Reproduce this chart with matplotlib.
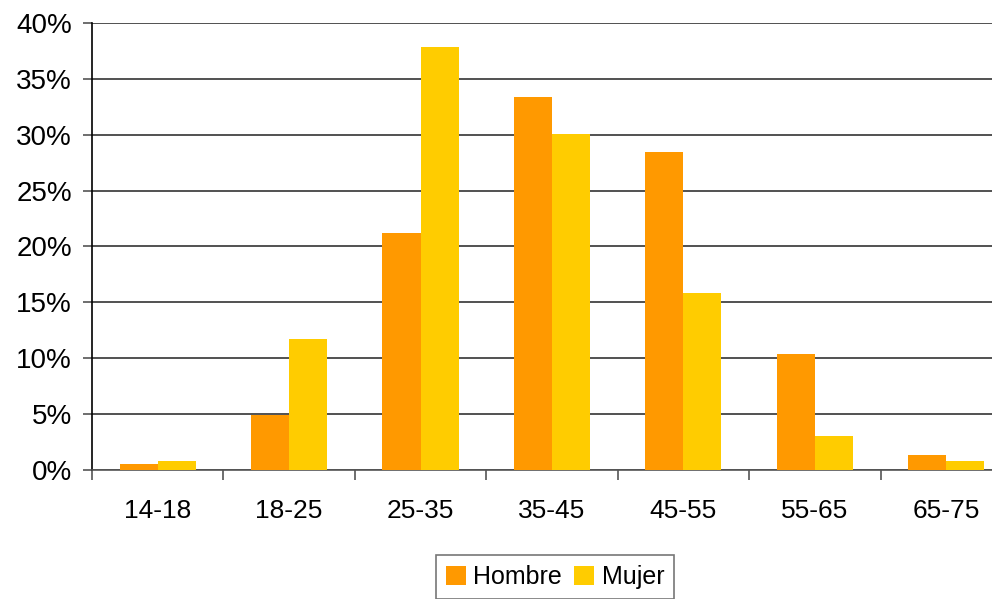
import numpy as np
import matplotlib.pyplot as plt
from matplotlib.ticker import FuncFormatter

# Datos
edades = ['14-18', '18-25', '25-35', '35-45', '45-55', '55-65', '65-75']
hombre = [0.55, 4.9, 21.2, 33.4, 28.5, 10.4, 1.35]
mujer = [0.8, 11.7, 37.85, 30.1, 15.8, 3.0, 0.8]

plt.rcParams['font.family'] = ['Liberation Sans', 'DejaVu Sans']

fig = plt.figure(figsize=(9.92, 5.99), dpi=100)
# el eje se sale un poco por la derecha, como en el original
ax = fig.add_axes([0.0927, 0.2154, 0.9274, 0.7462])

x = np.arange(len(edades))
ancho = 0.29
ax.bar(x - ancho/2, hombre, ancho, color='#FF9900', label='Hombre', zorder=3)
ax.bar(x + ancho/2, mujer, ancho, color='#FFCC00', label='Mujer', zorder=3)

ax.set_xlim(-0.5, len(edades) - 0.5)
ax.set_ylim(0, 40)
ax.set_yticks(np.arange(0, 41, 5))
ax.yaxis.set_major_formatter(FuncFormatter(lambda v, p: f'{v:.0f}%'))
ax.grid(axis='y', color='#222222', linewidth=1.1, zorder=0)

# ticks del eje x en los limites de cada categoria
ax.set_xticks(np.arange(-0.5, len(edades)), minor=False)
ax.set_xticklabels([])
ax.set_xticks(x, minor=True)
ax.set_xticklabels(edades, minor=True)
ax.tick_params(axis='x', which='minor', length=0, pad=21, labelsize=19)
ax.tick_params(axis='x', which='major', length=7, width=1.2, color='#555555')
ax.tick_params(axis='y', length=6.5, width=1.2, color='#555555', labelsize=20, pad=8)

for s in ['top', 'right']:
    ax.spines[s].set_visible(False)
ax.spines['left'].set_linewidth(1.2)
ax.spines['bottom'].set_linewidth(1.2)
ax.spines['bottom'].set_color('#555555')

leg = fig.legend(loc='upper center', bbox_to_anchor=(0.5595, 0.0735), ncol=2,
                 fontsize=18, frameon=True, fancybox=False, edgecolor='#555555',
                 handlelength=0.8, handleheight=0.8, handletextpad=0.3,
                 columnspacing=0.5, borderpad=0.4, borderaxespad=0)
leg.get_frame().set_linewidth(1.2)

fig.savefig('out.png', dpi=100)
